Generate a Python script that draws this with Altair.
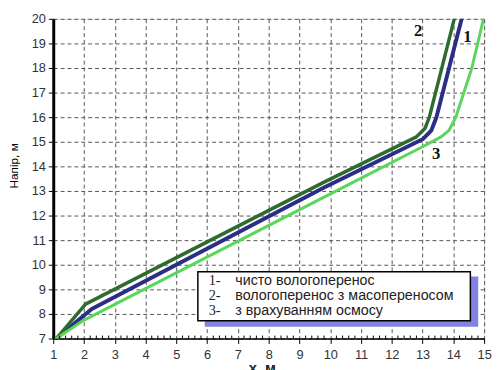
import altair as alt
import pandas as pd
import numpy as np

# Series
x1 = [1.1, 2.25, 9.8, 13.0, 13.28, 13.45, 14.27]
y1 = [7.0, 8.2, 13.14, 15.1, 15.45, 16.0, 20.0]
x2 = [1.1, 2.05, 9.8, 12.8, 13.08, 13.22, 14.03]
y2 = [7.0, 8.4, 13.36, 15.2, 15.55, 16.0, 20.0]
x3 = [1.1, 2.0, 9.8, 13.0, 13.6, 13.85, 14.08, 14.6, 14.98]
y3 = [7.0, 7.75, 12.75, 14.8, 15.2, 15.45, 16.0, 18.0, 20.0]

series = ["1", "2", "3"]
colors = ["#2b2e86", "#2f6b2f", "#5ad65a"]
widths = [4, 3, 2.5]
legend_nums = ["1-", "2-", "3-"]
legend_texts = ["чисто вологоперенос", "вологоперенос з масопереносом", "з врахуванням осмосу"]

# curve labels on the chart
lab_text = ["2", "1", "3"]
lab_x = [12.86, 14.46, 13.44]
lab_y = [19.52, 19.26, 14.5]

x_ticks = list(range(1, 16))
y_ticks = list(range(7, 21))
minor_x = [round(v, 1) for v in np.arange(1.2, 15.0, 0.2) if abs(v - round(v)) > 1e-6]

rows = []
for s, xs, ys in zip(series, [x1, x2, x3], [y1, y2, y3]):
    for i, (a, b) in enumerate(zip(xs, ys)):
        rows.append({"series": s, "x": a, "y": b, "i": i})
df = pd.DataFrame(rows)

W, H = 438, 325
xscale = alt.Scale(domain=[1, 15], nice=False, zero=False)
yscale = alt.Scale(domain=[7, 20], nice=False, zero=False)

lines = alt.Chart(df).mark_line(clip=True, strokeJoin="round", strokeCap="round").encode(
    x=alt.X("x:Q", scale=xscale, axis=alt.Axis(
        values=x_ticks, tickCount=len(x_ticks), labelOverlap=False, labelFlush=False,
        title="x, м", grid=True, gridDash=[4, 3], gridColor="#555",
        gridOpacity=1, gridWidth=1, domainColor="#000", domainWidth=1.5,
        tickColor="#000", tickSize=5, labelPadding=5,
        labelFont="Liberation Sans", labelFontSize=13, labelColor="#333",
        titleFont="Liberation Sans", titleFontSize=15, titleFontWeight="bold",
        titleColor="#222",
        titleX=212, titleY=23, titleBaseline="top", titleAnchor="start", titleAlign="center")),
    y=alt.Y("y:Q", scale=yscale, axis=alt.Axis(
        values=y_ticks, tickCount=len(y_ticks), labelOverlap=False, labelFlush=False,
        title="Напір, м", grid=True, gridDash=[4, 3], gridColor="#555",
        gridOpacity=1, gridWidth=1, domainColor="#000", domainWidth=3,
        tickColor="#000", tickSize=5, labelPadding=3,
        labelFont="Liberation Sans", labelFontSize=13, labelColor="#333",
        titleFont="Liberation Sans", titleFontSize=12, titleFontWeight="normal",
        titleColor="#000", titleX=-33, titleY=149, titleAnchor="start", titleAlign="center")),
    color=alt.Color("series:N", scale=alt.Scale(domain=series, range=colors), legend=None),
    strokeWidth=alt.StrokeWidth("series:N", scale=alt.Scale(domain=series, range=widths), legend=None),
    order="i:Q",
)

minor = alt.Chart(pd.DataFrame({"x": minor_x})).mark_rule(color="#000", strokeWidth=1).encode(
    x=alt.X("x:Q", scale=xscale), y=alt.value(H), y2=alt.value(H - 3)
)

labels = alt.Chart(pd.DataFrame({"t": lab_text, "x": lab_x, "y": lab_y})).mark_text(
    font="Liberation Serif", fontSize=17, fontWeight="bold", color="#111"
).encode(x=alt.X("x:Q", scale=xscale), y=alt.Y("y:Q", scale=yscale), text="t:N")

shadow = alt.Chart(pd.DataFrame({"a": [0]})).mark_rect(color="#8282e2").encode(
    x=alt.value(154), x2=alt.value(432), y=alt.value(262), y2=alt.value(313)
)
box = alt.Chart(pd.DataFrame({"a": [0]})).mark_rect(fill="#fff", stroke="#000", strokeWidth=1.5).encode(
    x=alt.value(147), x2=alt.value(424), y=alt.value(257), y2=alt.value(307)
)

leg_layers = []
for k in range(3):
    yy = 267 + 15 * k
    leg_layers.append(
        alt.Chart(pd.DataFrame({"t": [legend_nums[k]]})).mark_text(
            font="Liberation Serif", fontSize=14.5, align="left", baseline="middle", color="#222"
        ).encode(x=alt.value(158), y=alt.value(yy), text="t:N")
    )
    leg_layers.append(
        alt.Chart(pd.DataFrame({"t": [legend_texts[k]]})).mark_text(
            font="Liberation Sans", fontSize=14.5, align="left", baseline="middle", color="#222"
        ).encode(x=alt.value(185), y=alt.value(yy), text="t:N")
    )

chart = alt.layer(lines, minor, labels, shadow, box, *leg_layers).properties(
    width=W, height=H,
    autosize=alt.AutoSizeParams(type="none"),
    padding={"left": 46, "top": 8, "right": 8, "bottom": 30},
).configure_view(strokeWidth=0).configure(background="#ffffff")

chart.save("out.html", embed_options={"renderer": "svg", "actions": False})
